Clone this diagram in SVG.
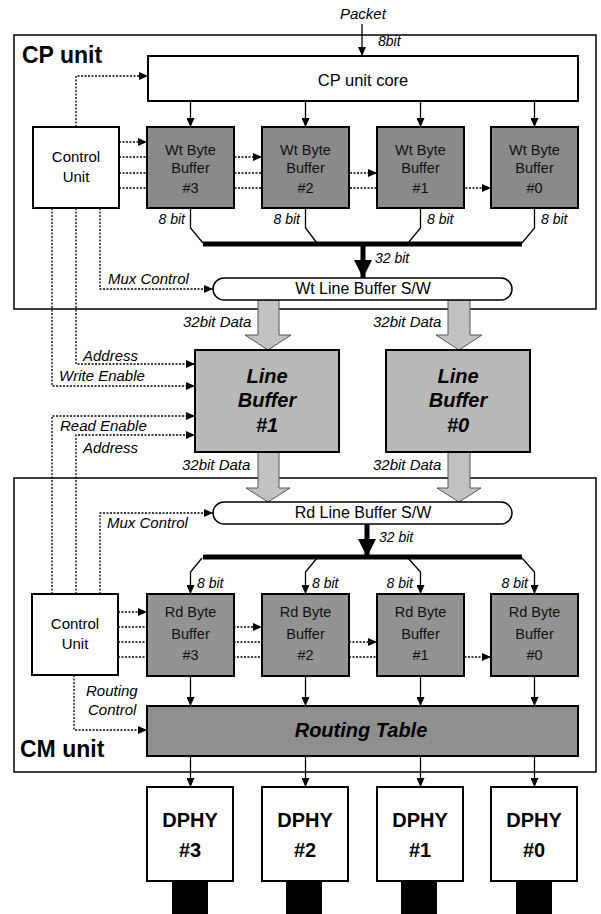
<svg xmlns="http://www.w3.org/2000/svg" width="601" height="914" viewBox="0 0 601 914">
<defs>
<marker id="ah" viewBox="0 0 9 8" refX="9" refY="4" markerWidth="9" markerHeight="8" markerUnits="userSpaceOnUse" orient="auto"><path d="M0,0 L9,4 L0,8 z" fill="#000"/></marker>
<marker id="big" viewBox="0 0 18 18" refX="18" refY="9" markerWidth="18" markerHeight="18" markerUnits="userSpaceOnUse" orient="auto"><path d="M0,0 L18,9 L0,18 z" fill="#000"/></marker>
<style>
text{font-family:"Liberation Sans",Arial,sans-serif;fill:#000}
.unit{fill:#fff;stroke:#000;stroke-width:1.5}
.box{fill:#fff;stroke:#000;stroke-width:2}
.wt{fill:#8a8a8a;stroke:#000;stroke-width:2}
.rd{fill:#939393;stroke:#000;stroke-width:2}
.lb{fill:#b9b9b9;stroke:#000;stroke-width:2}
.rt{fill:#8f8f8f;stroke:#000;stroke-width:2}
.sw{fill:#fff;stroke:#000;stroke-width:1.5}
.fat{fill:#c2c2c2;stroke:#555;stroke-width:1}
.ln{fill:none;stroke:#000;stroke-width:1.3}
.dot{fill:none;stroke:#000;stroke-width:1.3;stroke-dasharray:2 1.5}
.bus{fill:none;stroke:#000;stroke-width:5}
.lab{font-size:15px;font-style:italic}
.b8{font-size:14px;font-style:italic}
.ttl{font-size:23px;font-weight:bold}
.bt{font-size:14.5px;text-anchor:middle;fill:#111}
.big{font-size:20px;font-weight:bold;font-style:italic;text-anchor:middle}
.mid{font-size:16px;text-anchor:middle}
.dp{font-size:20px;font-weight:bold;text-anchor:middle}
</style>
</defs>
<rect width="601" height="914" fill="#fff"/>

<g id="cp-unit"><rect class="unit" x="14" y="35" width="582" height="274"/><text class="ttl" x="22" y="63">CP unit</text></g>
<g id="cm-unit"><rect class="unit" x="14" y="478" width="582" height="294"/><text class="ttl" x="20" y="757">CM unit</text></g>

<g id="connectors">
<text class="lab" x="340" y="19">Packet</text>
<line class="ln" x1="362" y1="24" x2="362" y2="56" marker-end="url(#ah)"/>
<text class="b8" x="378" y="46">8bit</text>
<line class="ln" x1="190.5" y1="101" x2="190.5" y2="127" marker-end="url(#ah)"/>
<line class="ln" x1="305.5" y1="101" x2="305.5" y2="127" marker-end="url(#ah)"/>
<line class="ln" x1="420.5" y1="101" x2="420.5" y2="127" marker-end="url(#ah)"/>
<line class="ln" x1="534.5" y1="101" x2="534.5" y2="127" marker-end="url(#ah)"/>
<path class="dot" d="M76,127 V76 H148" marker-end="url(#ah)"/>
<line class="dot" x1="119" y1="142" x2="147" y2="142" marker-end="url(#ah)"/>
<line class="dot" x1="119" y1="157" x2="262" y2="157" marker-end="url(#ah)"/>
<line class="dot" x1="119" y1="173" x2="377" y2="173" marker-end="url(#ah)"/>
<line class="dot" x1="119" y1="188" x2="491" y2="188" marker-end="url(#ah)"/>
<path class="dot" d="M100,208 V289 H213" marker-end="url(#ah)"/>
<text class="lab" x="108" y="284">Mux Control</text>
<path class="dot" d="M76,208 V364 H195" marker-end="url(#ah)"/>
<path class="dot" d="M52,208 V386 H195" marker-end="url(#ah)"/>
<text class="lab" x="83" y="361">Address</text>
<text class="lab" x="59" y="381">Write Enable</text>
<path class="dot" d="M52,594 V416 H195" marker-end="url(#ah)"/>
<path class="dot" d="M76,594 V435 H195" marker-end="url(#ah)"/>
<text class="lab" x="60" y="431">Read Enable</text>
<text class="lab" x="83" y="453">Address</text>
<path class="ln" d="M190.5,208 V228 L203,243"/>
<path class="ln" d="M305.5,208 V228 L317,243"/>
<path class="ln" d="M420.5,208 V228 L408,243"/>
<path class="ln" d="M534.5,208 V228 L522,243"/>
<line class="bus" x1="203" y1="244" x2="522" y2="244"/>
<line x1="363" y1="244" x2="363" y2="278" stroke="#000" stroke-width="5" marker-end="url(#big)"/>
<text class="b8" x="375" y="263">32 bit</text>
<text class="b8" x="185" y="224" text-anchor="end">8 bit</text>
<text class="b8" x="300" y="224" text-anchor="end">8 bit</text>
<text class="b8" x="427" y="224">8 bit</text>
<text class="b8" x="541" y="224">8 bit</text>
<polygon class="fat" points="258,300 279,300 279,335 291,335 268,350 245,335 258,335"/>
<polygon class="fat" points="448,300 470,300 470,335 482,335 459,350 436,335 448,335"/>
<polygon class="fat" points="258,452 279,452 279,488 290,488 268,502 246,488 258,488"/>
<polygon class="fat" points="448,452 470,452 470,488 481,488 459,502 437,488 448,488"/>
<text class="lab" x="183" y="327">32bit Data</text>
<text class="lab" x="373" y="327">32bit Data</text>
<text class="lab" x="182" y="470">32bit Data</text>
<text class="lab" x="373" y="470">32bit Data</text>
<path class="dot" d="M100,594 V513 H213" marker-end="url(#ah)"/>
<text class="lab" x="107" y="528">Mux Control</text>
<line class="dot" x1="118" y1="612" x2="147" y2="612" marker-end="url(#ah)"/>
<line class="dot" x1="118" y1="627" x2="262" y2="627" marker-end="url(#ah)"/>
<line class="dot" x1="118" y1="642" x2="377" y2="642" marker-end="url(#ah)"/>
<line class="dot" x1="118" y1="657" x2="491" y2="657" marker-end="url(#ah)"/>
<path class="dot" d="M74,675 V730 H147" marker-end="url(#ah)"/>
<text class="lab" x="86" y="696">Routing</text>
<text class="lab" x="88" y="715">Control</text>
<line x1="367" y1="523" x2="367" y2="557" stroke="#000" stroke-width="5" marker-end="url(#big)"/>
<text class="b8" x="379" y="542">32 bit</text>
<line class="bus" x1="203" y1="557" x2="522" y2="557"/>
<path class="ln" d="M202,558 L190.5,572 V594" marker-end="url(#ah)"/>
<path class="ln" d="M317,558 L305.5,572 V594" marker-end="url(#ah)"/>
<path class="ln" d="M408,558 L420.5,572 V594" marker-end="url(#ah)"/>
<path class="ln" d="M522,558 L534.5,572 V594" marker-end="url(#ah)"/>
<text class="b8" x="197" y="588">8 bit</text>
<text class="b8" x="312" y="588">8 bit</text>
<text class="b8" x="413" y="588" text-anchor="end">8 bit</text>
<text class="b8" x="528" y="588" text-anchor="end">8 bit</text>
<line class="ln" x1="190.5" y1="676" x2="190.5" y2="706" marker-end="url(#ah)"/>
<line class="ln" x1="305.5" y1="676" x2="305.5" y2="706" marker-end="url(#ah)"/>
<line class="ln" x1="420.5" y1="676" x2="420.5" y2="706" marker-end="url(#ah)"/>
<line class="ln" x1="534.5" y1="676" x2="534.5" y2="706" marker-end="url(#ah)"/>
<line class="ln" x1="190.5" y1="756" x2="190.5" y2="787" marker-end="url(#ah)"/>
<line class="ln" x1="305.5" y1="756" x2="305.5" y2="787" marker-end="url(#ah)"/>
<line class="ln" x1="420.5" y1="756" x2="420.5" y2="787" marker-end="url(#ah)"/>
<line class="ln" x1="534.5" y1="756" x2="534.5" y2="787" marker-end="url(#ah)"/>
</g>

<g id="cp-core"><rect class="box" x="148" y="56" width="430" height="45"/><text class="mid" x="363" y="86" style="font-size:16.5px">CP unit core</text></g>
<g id="cp-control"><rect class="box" x="33" y="127" width="86" height="81"/><text class="mid" x="76" y="162" style="font-size:15px">Control</text><text class="mid" x="76" y="182" style="font-size:15px">Unit</text></g>
<g id="wt3"><rect class="wt" x="147" y="127" width="87" height="81"/><text class="bt" x="190.5" y="155">Wt Byte</text><text class="bt" x="190.5" y="173">Buffer</text><text class="bt" x="190.5" y="193">#3</text></g>
<g id="wt2"><rect class="wt" x="262" y="127" width="87" height="81"/><text class="bt" x="305.5" y="155">Wt Byte</text><text class="bt" x="305.5" y="173">Buffer</text><text class="bt" x="305.5" y="193">#2</text></g>
<g id="wt1"><rect class="wt" x="377" y="127" width="87" height="81"/><text class="bt" x="420.5" y="155">Wt Byte</text><text class="bt" x="420.5" y="173">Buffer</text><text class="bt" x="420.5" y="193">#1</text></g>
<g id="wt0"><rect class="wt" x="491" y="127" width="87" height="81"/><text class="bt" x="534.5" y="155">Wt Byte</text><text class="bt" x="534.5" y="173">Buffer</text><text class="bt" x="534.5" y="193">#0</text></g>
<g id="wt-sw"><rect class="sw" x="213" y="278" width="299" height="22" rx="11"/><text class="mid" x="363" y="294">Wt Line Buffer S/W</text></g>
<g id="lb1"><rect class="lb" x="195" y="350" width="144" height="102"/><text class="big" x="267" y="383">Line</text><text class="big" x="267" y="407">Buffer</text><text class="big" x="267" y="432">#1</text></g>
<g id="lb0"><rect class="lb" x="386" y="350" width="144" height="102"/><text class="big" x="458" y="383">Line</text><text class="big" x="458" y="407">Buffer</text><text class="big" x="458" y="432">#0</text></g>
<g id="rd-sw"><rect class="sw" x="213" y="502" width="299" height="22" rx="11"/><text class="mid" x="363" y="518">Rd Line Buffer S/W</text></g>
<g id="cm-control"><rect class="box" x="32" y="594" width="86" height="81"/><text class="mid" x="75" y="629" style="font-size:15px">Control</text><text class="mid" x="75" y="649" style="font-size:15px">Unit</text></g>
<g id="rd3"><rect class="rd" x="147" y="594" width="87" height="82"/><text class="bt" x="190.5" y="617">Rd Byte</text><text class="bt" x="190.5" y="639">Buffer</text><text class="bt" x="190.5" y="660">#3</text></g>
<g id="rd2"><rect class="rd" x="262" y="594" width="87" height="82"/><text class="bt" x="305.5" y="617">Rd Byte</text><text class="bt" x="305.5" y="639">Buffer</text><text class="bt" x="305.5" y="660">#2</text></g>
<g id="rd1"><rect class="rd" x="377" y="594" width="87" height="82"/><text class="bt" x="420.5" y="617">Rd Byte</text><text class="bt" x="420.5" y="639">Buffer</text><text class="bt" x="420.5" y="660">#1</text></g>
<g id="rd0"><rect class="rd" x="491" y="594" width="87" height="82"/><text class="bt" x="534.5" y="617">Rd Byte</text><text class="bt" x="534.5" y="639">Buffer</text><text class="bt" x="534.5" y="660">#0</text></g>
<g id="routing"><rect class="rt" x="147" y="706" width="431" height="50"/><text class="big" x="361" y="737">Routing Table</text></g>
<g id="dphy3"><rect class="box" x="147" y="787" width="86" height="94"/><text class="dp" x="190" y="827">DPHY</text><text class="dp" x="190" y="857">#3</text><rect x="172" y="881" width="36" height="33" fill="#000"/></g>
<g id="dphy2"><rect class="box" x="262" y="787" width="86" height="94"/><text class="dp" x="305" y="827">DPHY</text><text class="dp" x="305" y="857">#2</text><rect x="286" y="881" width="36" height="33" fill="#000"/></g>
<g id="dphy1"><rect class="box" x="377" y="787" width="86" height="94"/><text class="dp" x="420" y="827">DPHY</text><text class="dp" x="420" y="857">#1</text><rect x="401" y="881" width="36" height="33" fill="#000"/></g>
<g id="dphy0"><rect class="box" x="491" y="787" width="86" height="94"/><text class="dp" x="534" y="827">DPHY</text><text class="dp" x="534" y="857">#0</text><rect x="516" y="881" width="36" height="33" fill="#000"/></g>
</svg>
